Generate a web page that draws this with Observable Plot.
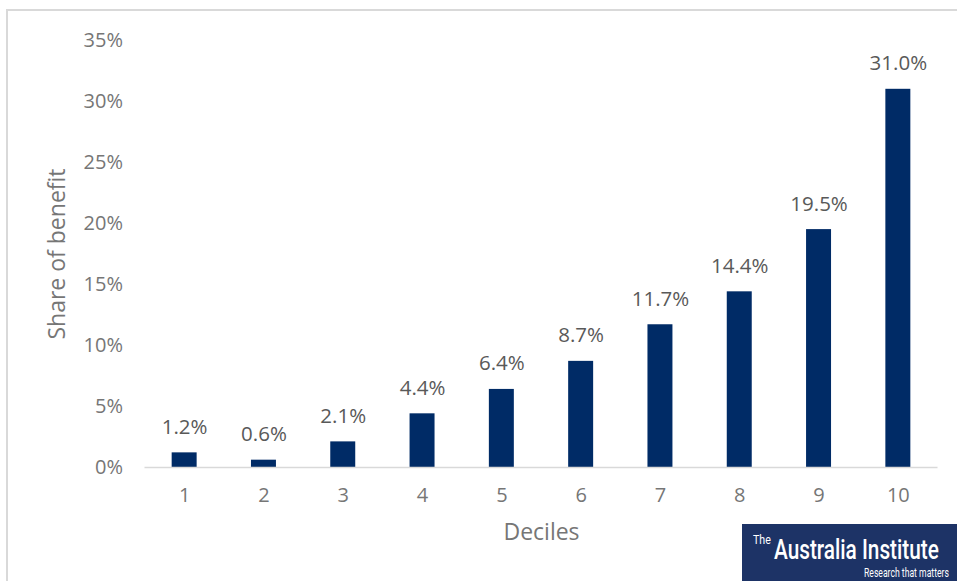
<!DOCTYPE html>
<html>
<head>
<meta charset="utf-8">
<script src="https://cdn.jsdelivr.net/npm/d3@7"></script>
<script src="https://cdn.jsdelivr.net/npm/@observablehq/plot@0.6"></script>
<style>
  html, body { margin: 0; padding: 0; background: #fff; }
  #wrap { position: relative; width: 957px; height: 581px; overflow: hidden; font-family: "Open Sans", sans-serif; }
  #frame { position: absolute; left: 6px; top: 9px; width: 960px; height: 600px; border-top: 2px solid #d9d9d9; border-left: 2px solid #d9d9d9; box-sizing: border-box; }
  #chart { position: absolute; left: 0; top: 0; }
  #logo { position: absolute; left: 742px; top: 524px; }
</style>
</head>
<body>
<div id="wrap">
  <div id="frame"></div>
  <div id="chart"></div>
  <svg id="logo" width="215" height="57" xmlns="http://www.w3.org/2000/svg">
    <rect x="0" y="0" width="215" height="57" fill="#1d3366"></rect>
    <text transform="translate(11,20) scale(0.82,1)" fill="#fff" font-family="Roboto, sans-serif" font-size="13">The</text>
    <text transform="translate(32,35) scale(0.77,1)" fill="#fff" font-family="Roboto, sans-serif" font-size="27" font-weight="500">Australia Institute</text>
    <text transform="translate(122,53) scale(0.72,1)" fill="#fff" font-family="Roboto, sans-serif" font-size="12">Research that matters</text>
  </svg>
</div>
<script>
const deciles = ["1","2","3","4","5","6","7","8","9","10"];
const shares = [1.2, 0.6, 2.1, 4.4, 6.4, 8.7, 11.7, 14.4, 19.5, 31.0];
const yTicks = [0, 5, 10, 15, 20, 25, 30, 35];

const data = deciles.map((d, i) => ({decile: d, share: shares[i]}));

const chart = Plot.plot({
  width: 957,
  height: 581,
  marginLeft: 144.5,
  marginRight: 19.5,
  marginTop: 40,
  marginBottom: 114,
  style: { fontFamily: "Open Sans, sans-serif", background: "transparent", overflow: "visible" },
  x: { domain: deciles, paddingInner: 0.685, paddingOuter: 0.3425, align: 0.5, round: false },
  y: { domain: [0, 35] },
  marks: [
    Plot.axisY({
      ticks: yTicks, tickSize: 0, tickPadding: 22, tickFormat: d => d + "%",
      fontSize: 20, color: "#767676",
      label: "Share of benefit", labelAnchor: "center", labelArrow: "none", labelOffset: 96
    }),
    Plot.axisX({
      tickSize: 0, tickPadding: 20, fontSize: 20, color: "#767676",
      label: "Deciles", labelAnchor: "center", labelArrow: "none", labelOffset: 72
    }),
    Plot.barY(data, { x: "decile", y: "share", fill: "#002b66" }),
    Plot.ruleY([0], { stroke: "#d9d9d9", strokeWidth: 1.5 }),
    Plot.text(data, {
      x: "decile", y: "share", text: d => d.share.toFixed(1) + "%",
      lineAnchor: "bottom", dy: -19, fontSize: 20.5, fill: "#595959"
    })
  ]
});
chart.querySelectorAll("g[aria-label='y-axis label'] text, g[aria-label='x-axis label'] text").forEach(t => {
  t.setAttribute("font-size", 23);
  t.setAttribute("fill", "#767676");
});
document.getElementById("chart").appendChild(chart);
</script>
</body>
</html>
